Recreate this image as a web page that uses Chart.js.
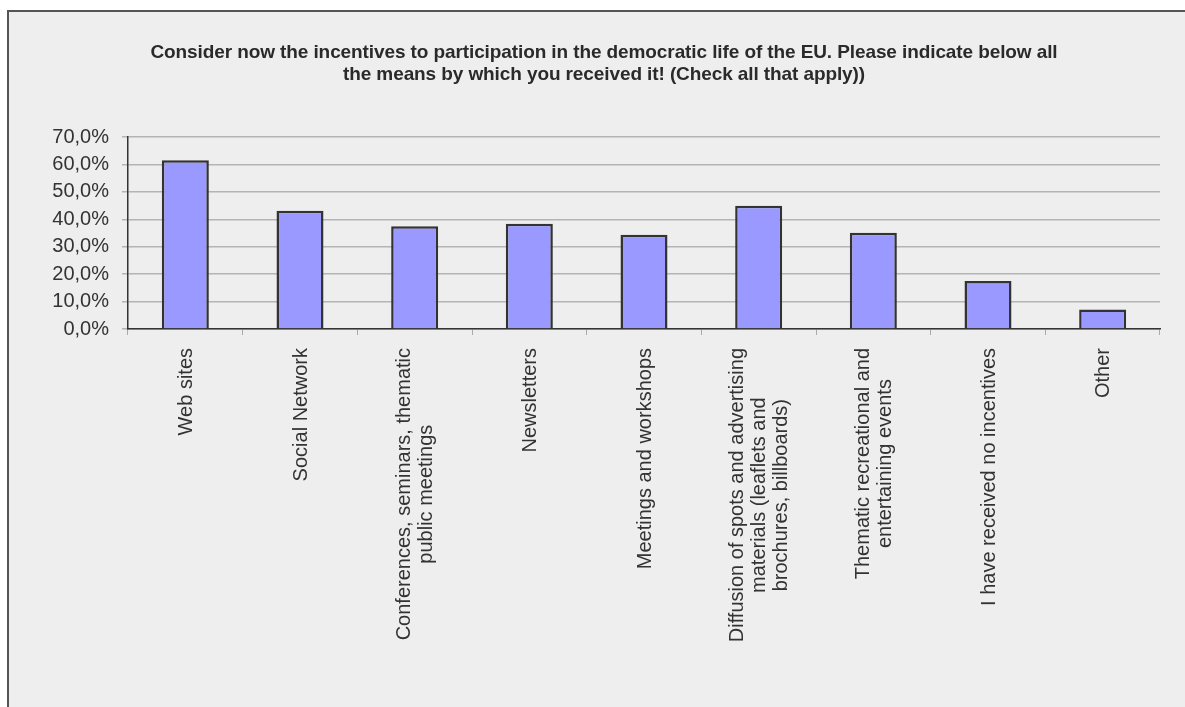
<!DOCTYPE html>
<html>
<head>
<meta charset="utf-8">
<script src="https://cdn.jsdelivr.net/npm/chart.js@4/dist/chart.umd.min.js"></script>
<style>
  body { margin: 0; background: #fff; overflow: hidden; }
  #frame { position: absolute; left: 7px; top: 10px; width: 1200px; height: 720px; background: #eeeeee; border: 2px solid #555; }
  #wrap { position: absolute; left: 0; top: 0; width: 1185px; height: 707px; }
</style>
</head>
<body>
<div id="frame"></div>
<div id="wrap"><canvas id="chart"></canvas></div>
<script>
var titleLines = [
  'Consider now the incentives to participation in the democratic life of the EU. Please indicate below all',
  'the means by which you received it! (Check all that apply))'
];
var categories = [
  ['Web sites'],
  ['Social Network'],
  ['Conferences, seminars, thematic', 'public meetings'],
  ['Newsletters'],
  ['Meetings and workshops'],
  ['Diffusion of spots and advertising', 'materials (leaflets and', 'brochures, billboards)'],
  ['Thematic recreational and', 'entertaining events'],
  ['I have received no incentives'],
  ['Other']
];
var values = [61.5, 43.1, 37.5, 38.4, 34.4, 44.9, 35.1, 17.5, 7.1];
var yTicks = [0, 10, 20, 30, 40, 50, 60, 70];

var textColor = '#333333';
var labelFont = '20px "Liberation Sans", Arial, sans-serif';

// title and rotated, centred category labels
var extraText = {
  id: 'extraText',
  afterDraw: function(chart) {
    var ctx = chart.ctx;
    ctx.save();
    ctx.fillStyle = '#2a2a2a';
    ctx.font = 'bold 19px "Liberation Sans", Arial, sans-serif';
    ctx.letterSpacing = '-0.1px';
    ctx.textAlign = 'center';
    ctx.textBaseline = 'alphabetic';
    titleLines.forEach(function(line, i) {
      ctx.fillText(line, 604, 58 + i * 22);
    });
    ctx.restore();

    var xs = chart.scales.x;
    ctx.save();
    ctx.fillStyle = textColor;
    ctx.font = labelFont;
    ctx.textAlign = 'center';
    ctx.textBaseline = 'middle';
    var top = chart.chartArea.bottom + 19;
    var lh = 22;
    categories.forEach(function(lines, i) {
      var x = xs.getPixelForTick(i);
      var w = 0;
      lines.forEach(function(l) { w = Math.max(w, ctx.measureText(l).width); });
      ctx.save();
      ctx.translate(x, top);
      ctx.rotate(-Math.PI / 2);
      lines.forEach(function(l, j) {
        ctx.fillText(l, -w / 2, (j - (lines.length - 1) / 2) * lh + 1);
      });
      ctx.restore();
    });
    ctx.restore();
  }
};

new Chart(document.getElementById('chart'), {
  type: 'bar',
  data: {
    labels: categories,
    datasets: [{
      data: values,
      backgroundColor: '#9999ff',
      borderColor: '#333333',
      borderWidth: 2.5,
      barPercentage: 1,
      categoryPercentage: 0.41
    }]
  },
  options: {
    responsive: true,
    maintainAspectRatio: false,
    animation: false,
    layout: { padding: { left: 48, right: 25, top: 137, bottom: 0 } },
    plugins: {
      legend: { display: false },
      tooltip: { enabled: false },
      title: { display: false }
    },
    scales: {
      x: {
        ticks: { display: false },
        grid: {
          drawOnChartArea: false,
          drawTicks: true,
          tickLength: 6,
          color: '#aaaaaa',
          offset: true
        },
        border: { color: '#333333', width: 1.5 },
        afterFit: function(scale) { scale.height = 378; }
      },
      y: {
        min: 0,
        max: 70,
        afterBuildTicks: function(scale) {
          scale.ticks = yTicks.map(function(v) { return { value: v }; });
        },
        ticks: {
          color: textColor,
          font: { family: '"Liberation Sans", Arial, sans-serif', size: 20 },
          padding: 13,
          callback: function(v) { return v.toFixed(1).replace('.', ',') + '%'; }
        },
        grid: { color: '#b4b4b4', lineWidth: 1.5, tickLength: 6 },
        border: { color: '#333333', width: 1.5 },
        afterFit: function(scale) { scale.width = 80; }
      }
    }
  },
  plugins: [extraText]
});
</script>
</body>
</html>
